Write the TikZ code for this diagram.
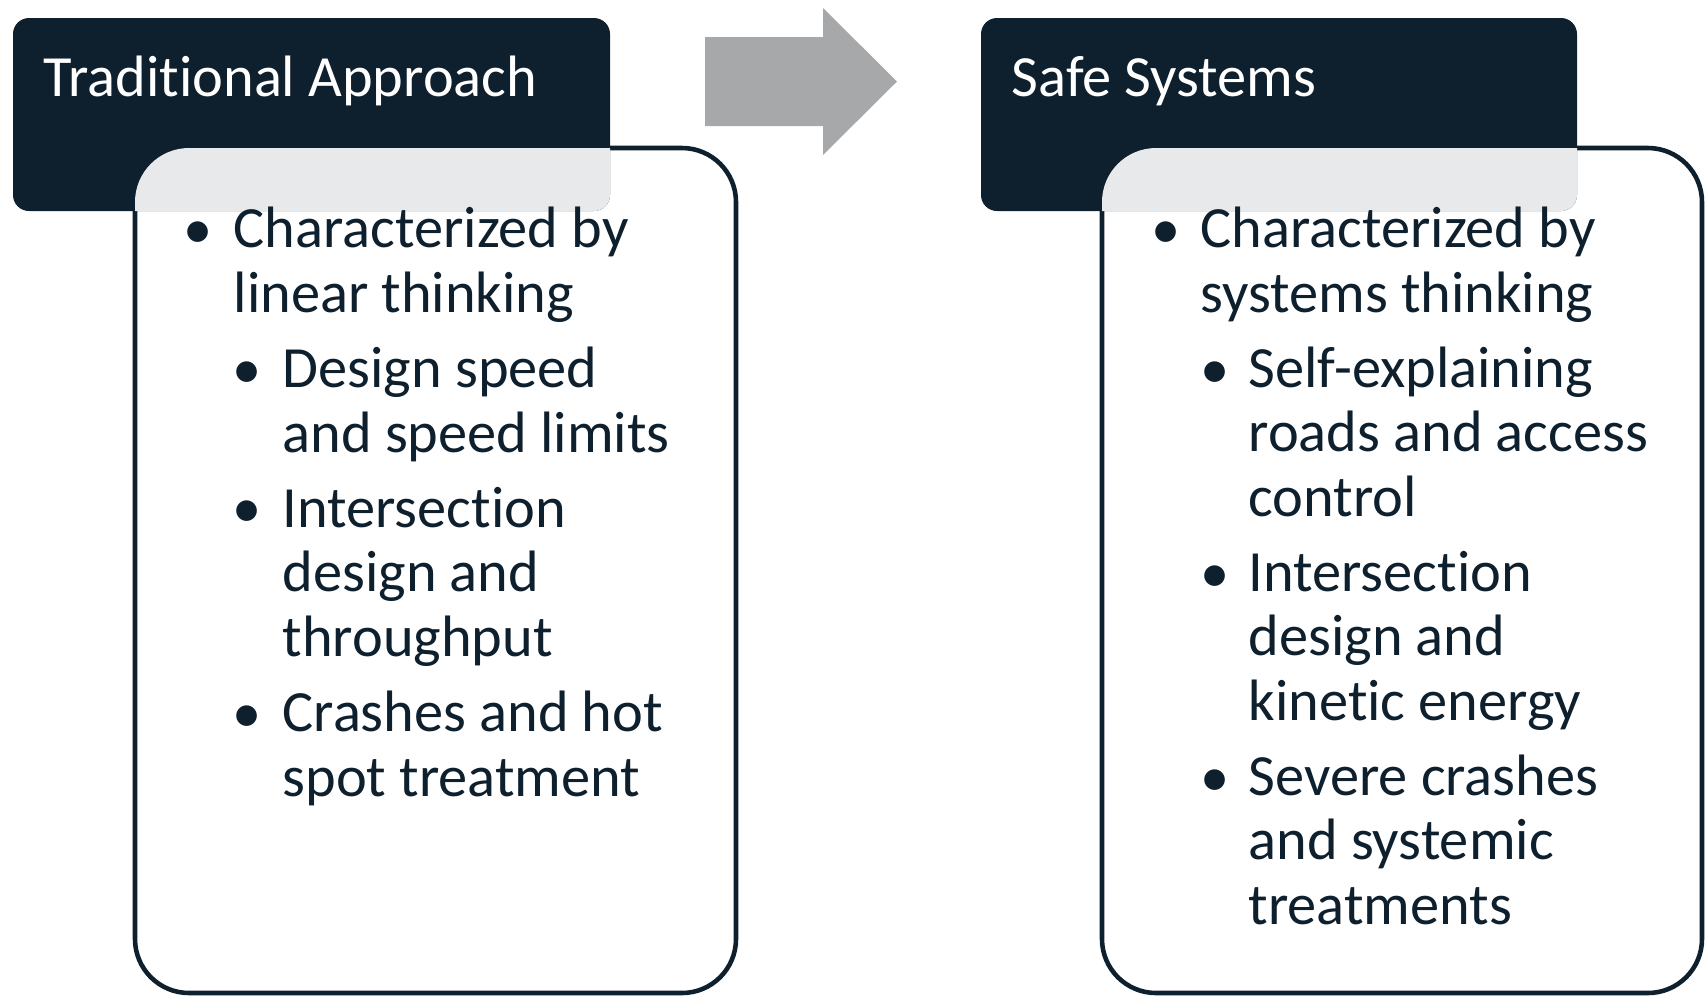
\documentclass[tikz,border=0pt]{standalone}
\usepackage{fontspec}
\setmainfont{Carlito}[Ligatures=NoCommon]
\usetikzlibrary{positioning}

\definecolor{navy}{HTML}{0E1F2D}
\definecolor{arrowgray}{HTML}{A7A8AA}

\tikzset{
  head/.style={fill=navy, rounded corners=0.16cm},
  panel/.style={draw=navy, line width=1.3pt, fill=white, rounded corners=0.54cm},
  title/.style={font=\fontsize{16.6}{19}\selectfont, text=white, anchor=base west, inner sep=0},
  % multi-line nodes: the base anchor sits on the last line
  entry/.style={font=\fontsize{16.6}{18.27}\selectfont, text=navy, anchor=base west, inner sep=0, align=left},
  dot/.style={font=\fontsize{16.6}{18.27}\selectfont, text=navy, anchor=base, inner sep=0}
}

\begin{document}
\begin{tikzpicture}[x=0.01cm,y=-0.01cm]
\useasboundingbox (0,0) rectangle (1705,996);

% left column
\draw[panel] (135,148) rectangle (736,993);
\fill[head] (13,18) rectangle (610,211);
\begin{scope}
\clip[rounded corners=0.16cm] (13,18) rectangle (610,211);
\fill[white,opacity=0.9,rounded corners=0.54cm] (135,148) rectangle (736,993);
\end{scope}
\node[title] (tradTitle) at (43,96) {Traditional Approach};

\node[dot] (tradB1) at (198,248) {\textbullet};
\node[entry] (tradI1) at (233,312) {Characterized by\\linear thinking};
\node[dot] (tradB2) at (247,388) {\textbullet};
\node[entry] (tradI2) at (282,452) {Design speed\\and speed limits};
\node[dot] (tradB3) at (247,527) {\textbullet};
\node[entry] (tradI3) at (282,656) {Intersection\\design and\\throughput};
\node[dot] (tradB4) at (247,732) {\textbullet};
\node[entry] (tradI4) at (282,796) {Crashes and hot\\spot treatment};

% shift arrow
\fill[arrowgray] (705,37) -- (823,37) -- (823,8) -- (897,81.5) -- (823,155) -- (823,126) -- (705,126) -- cycle;

% right column
\draw[panel] (1102,148) rectangle (1702,993);
\fill[head] (981,18) rectangle (1577,211);
\begin{scope}
\clip[rounded corners=0.16cm] (981,18) rectangle (1577,211);
\fill[white,opacity=0.9,rounded corners=0.54cm] (1102,148) rectangle (1702,993);
\end{scope}
\node[title] (safeTitle) at (1011,96) {Safe Systems};

\node[dot] (safeB1) at (1166,248) {\textbullet};
\node[entry] (safeI1) at (1200,312) {Characterized by\\systems thinking};
\node[dot] (safeB2) at (1215,388) {\textbullet};
\node[entry] (safeI2) at (1248,516) {Self-explaining\\roads and access\\control};
\node[dot] (safeB3) at (1215,592) {\textbullet};
\node[entry] (safeI3) at (1248,720) {Intersection\\design and\\kinetic energy};
\node[dot] (safeB4) at (1215,796) {\textbullet};
\node[entry] (safeI4) at (1248,924) {Severe crashes\\and systemic\\treatments};

\end{tikzpicture}
\end{document}
